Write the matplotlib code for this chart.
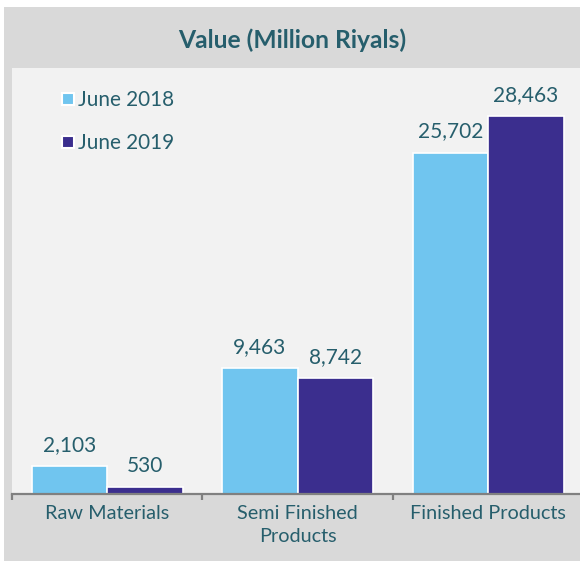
import matplotlib
matplotlib.use("Agg")
import matplotlib.pyplot as plt
from matplotlib.patches import Rectangle, Patch
import numpy as np

categories = ["Raw Materials", "Semi Finished\nProducts", "Finished Products"]
series_names = ["June 2018", "June 2019"]
values_2018 = [2103, 9463, 25702]
values_2019 = [530, 8742, 28463]
labels_2018 = ["2,103", "9,463", "25,702"]
labels_2019 = ["530", "8,742", "28,463"]
title = "Value (Million Riyals)"

c18 = "#70c5ef"
c19 = "#3b2e8e"
txt = "#265e6c"
plt.rcParams['font.family'] = ['Lato', 'DejaVu Sans']

W, H = 580, 561
fig = plt.figure(figsize=(W/100, H/100), dpi=100)
fig.patch.set_facecolor("white")
bg = Rectangle((4/W, 0), (W-4)/W, (H-7)/H, transform=fig.transFigure,
               facecolor="#d9d9d9", edgecolor="none", zorder=-10)
fig.add_artist(bg)

ax = fig.add_axes([12/W, (H-494)/H, (W-12)/W, (494-68)/H])
ax.set_zorder(1)
ax.set_facecolor("#f2f2f2")

x = np.arange(len(categories))
bw = 0.397
b1 = ax.bar(x - bw/2, values_2018, bw, color=c18, edgecolor="white", linewidth=1.2, label=series_names[0])
b2 = ax.bar(x + bw/2, values_2019, bw, color=c19, edgecolor="white", linewidth=1.2, label=series_names[1])

for bars, labs in ((b1, labels_2018), (b2, labels_2019)):
    for r, lab in zip(bars, labs):
        ax.annotate(lab, (r.get_x() + r.get_width()/2, r.get_height()),
                    xytext=(0, 8), textcoords="offset points",
                    ha="center", va="bottom", fontsize=15, color=txt)

ax.set_xlim(-0.5, 2.482)
ax.set_ylim(0, 32080)
ax.set_yticks([])
for s in ("top", "right", "left"):
    ax.spines[s].set_visible(False)
ax.spines["bottom"].set_color("#808080")
ax.spines["bottom"].set_linewidth(1.6)

ax.set_xticks([-0.5, 0.5, 1.5])
ax.set_xticklabels([])
ax.tick_params(axis="x", length=4, width=1.6, color="#808080")
for xi, cat in zip(x, categories):
    ax.text(xi, -0.025, cat, transform=ax.get_xaxis_transform(), ha="center", va="top",
            fontsize=14.3, color=txt, linespacing=1.45)

fig.text(292/W, 1 - 40/H, title, ha="center", va="center", fontsize=17.7,
         fontweight="bold", color=txt)

handles = [Patch(facecolor=c18, edgecolor="white", linewidth=1.5),
           Patch(facecolor=c19, edgecolor="white", linewidth=1.5)]
ax.legend(handles, series_names, loc="upper left", bbox_to_anchor=(42/(W-12), 1 - 14/426),
          frameon=False, fontsize=14.9, handlelength=0.55, handleheight=0.55,
          handletextpad=0.2, labelspacing=1.12, labelcolor=txt, borderaxespad=0)

fig.savefig("out.png", dpi=100)
